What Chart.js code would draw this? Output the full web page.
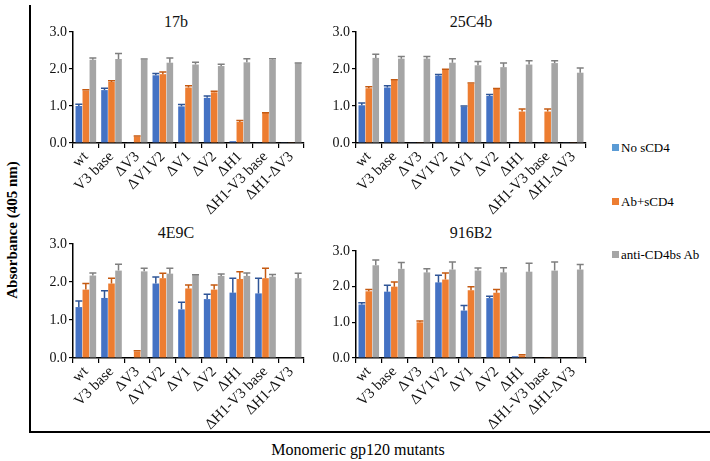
<!DOCTYPE html>
<html>
<head>
<meta charset="utf-8">
<script src="https://cdn.jsdelivr.net/npm/chart.js@4.4.0/dist/chart.umd.min.js"></script>
<style>
body { margin: 0; background: #fff; font-family: "Liberation Serif", serif; }
#wrap { position: relative; width: 710px; height: 461px; overflow: hidden; }
.panel { position: absolute; }
.ptitle { position: absolute; font-size: 16px; transform: translate(-50%, -50%); white-space: nowrap; color: #111; }
#frame { position: absolute; left: 29px; top: 5px; width: 681px; height: 426px; border-left: 2px solid #000; border-bottom: 2px solid #000; }
#ytitle { position: absolute; left: 12px; top: 230px; transform: translate(-50%, -50%) rotate(-90deg); font-weight: bold; font-size: 15px; white-space: nowrap; }
#xtitle { position: absolute; left: 358px; top: 450px; transform: translate(-50%, -50%); font-size: 16px; white-space: nowrap; }
.leg { position: absolute; left: 612px; font-size: 13px; white-space: nowrap; transform: translateY(-50%); }
.leg span { display: inline-block; width: 7px; height: 7px; margin-right: 2px; vertical-align: 1px; }
</style>
</head>
<body>
<div id="wrap">
  <div id="frame"></div>
  <div id="ytitle">Absorbance (405 nm)</div>
  <div id="xtitle">Monomeric gp120 mutants</div>

  <div class="ptitle" style="left:176px;top:22px">17b</div>
  <div class="ptitle" style="left:471px;top:22px">25C4b</div>
  <div class="ptitle" style="left:176px;top:233px">4E9C</div>
  <div class="ptitle" style="left:471px;top:233px">916B2</div>

  <div class="panel" style="left:30px;top:20px;width:290px;height:215px"><canvas id="c17b"></canvas></div>
  <div class="panel" style="left:313px;top:20px;width:290px;height:215px"><canvas id="c25c4b"></canvas></div>
  <div class="panel" style="left:30px;top:232px;width:290px;height:200px"><canvas id="c4e9c"></canvas></div>
  <div class="panel" style="left:313px;top:232px;width:290px;height:200px"><canvas id="c916b2"></canvas></div>

  <div class="leg" style="top:148px"><span style="background:#5B9BD5"></span>No sCD4</div>
  <div class="leg" style="top:202px"><span style="background:#ED7D31"></span>Ab+sCD4</div>
  <div class="leg" style="top:255px"><span style="background:#A5A5A5"></span>anti-CD4bs Ab</div>
</div>

<script>
// --- DATA ---
const categories = ["wt", "V3 base", "ΔV3", "ΔV1V2", "ΔV1", "ΔV2", "ΔH1", "ΔH1-V3 base", "ΔH1-ΔV3"];
const yTicks = [0, 1, 2, 3];

// 17b
const no17b      = [1.00, 1.43, 0.02, 1.83, 0.99, 1.22, 0.05, 0.02, 0.02];
const no17bErr   = [1.05, 1.48, null, 1.88, 1.04, 1.27, null, null, null];
const ab17b      = [1.42, 1.65, 0.17, 1.86, 1.50, 1.37, 0.57, 0.81, 0.02];
const ab17bErr   = [1.44, 1.68, 0.19, 1.92, 1.55, 1.40, 0.61, 0.82, null];
const anti17b    = [2.25, 2.27, 2.25, 2.17, 2.12, 2.08, 2.18, 2.25, 2.15];
const anti17bErr = [2.30, 2.42, 2.27, 2.30, 2.18, 2.13, 2.28, 2.28, 2.16];

// 25C4b
const no25c4b      = [1.02, 1.50, 0.02, 1.82, 0.98, 1.27, 0.02, 0.02, 0.02];
const no25c4bErr   = [1.08, 1.55, null, 1.85, 1.00, 1.31, null, null, null];
const ab25c4b      = [1.48, 1.70, 0.02, 1.98, 1.60, 1.46, 0.85, 0.85, 0.02];
const ab25c4bErr   = [1.52, 1.71, null, 1.99, 1.62, 1.47, 0.92, 0.92, null];
const anti25c4b    = [2.30, 2.28, 2.28, 2.17, 2.10, 2.05, 2.12, 2.16, 1.90];
const anti25c4bErr = [2.40, 2.34, 2.34, 2.28, 2.20, 2.16, 2.22, 2.22, 2.03];

// 4E9C
const no4e9c      = [1.34, 1.58, 0, 1.96, 1.28, 1.55, 1.72, 1.70, 0];
const no4e9cErr   = [1.50, 1.77, null, 2.13, 1.47, 1.68, 2.10, 2.10, null];
const ab4e9c      = [1.80, 1.96, 0.17, 2.10, 1.83, 1.80, 2.08, 2.10, 0];
const ab4e9cErr   = [1.96, 2.10, 0.19, 2.23, 1.92, 1.92, 2.27, 2.36, null];
const anti4e9c    = [2.17, 2.30, 2.28, 2.22, 2.18, 2.16, 2.16, 2.14, 2.10];
const anti4e9cErr = [2.24, 2.47, 2.36, 2.36, 2.19, 2.21, 2.24, 2.20, 2.23];

// 916B2
const no916b2      = [1.50, 1.86, 0.02, 2.12, 1.33, 1.68, 0.05, 0, 0];
const no916b2Err   = [1.55, 2.04, null, 2.32, 1.47, 1.73, null, null, null];
const ab916b2      = [1.87, 2.00, 1.00, 2.20, 1.90, 1.83, 0.07, 0.02, 0];
const ab916b2Err   = [1.92, 2.13, 1.04, 2.38, 2.00, 1.92, 0.09, null, null];
const anti916b2    = [2.60, 2.50, 2.40, 2.48, 2.45, 2.40, 2.42, 2.45, 2.48];
const anti916b2Err = [2.75, 2.68, 2.50, 2.69, 2.52, 2.53, 2.66, 2.69, 2.62];

// --- error bars drawn through the y scale ---
const errorBars = {
  id: "errorBars",
  afterDatasetsDraw(chart) {
    const ctx = chart.ctx;
    const y = chart.scales.y;
    chart.data.datasets.forEach((ds, i) => {
      const meta = chart.getDatasetMeta(i);
      meta.data.forEach((bar, j) => {
        const top = ds.errTop[j];
        if (top == null || top <= ds.data[j]) return;
        const yt = y.getPixelForValue(top);
        ctx.save();
        ctx.strokeStyle = ds.errColor;
        ctx.lineWidth = 1.5;
        ctx.beginPath();
        ctx.moveTo(bar.x, bar.y);
        ctx.lineTo(bar.x, yt);
        ctx.moveTo(bar.x - 3.5, yt);
        ctx.lineTo(bar.x + 3.5, yt);
        ctx.stroke();
        ctx.restore();
      });
    });
  }
};

const xFont = { family: "'Liberation Serif', serif", size: 15 };
const yFont = { family: "'Liberation Serif', serif", size: 14 };

function makePanel(id, series, padTop, yWidth, xHeight, padRight) {
  const ctx = document.getElementById(id).getContext("2d");
  return new Chart(ctx, {
    type: "bar",
    data: {
      labels: categories,
      datasets: [
        { label: "No sCD4", data: series[0], errTop: series[1], backgroundColor: "#4472C4", errColor: "#2F5597" },
        { label: "Ab+sCD4", data: series[2], errTop: series[3], backgroundColor: "#ED7D31", errColor: "#C55A11" },
        { label: "anti-CD4bs Ab", data: series[4], errTop: series[5], backgroundColor: "#A5A5A5", errColor: "#7F7F7F" }
      ]
    },
    options: {
      responsive: true,
      maintainAspectRatio: false,
      animation: false,
      layout: { padding: { top: padTop, right: padRight, left: 0, bottom: 0 } },
      plugins: { legend: { display: false }, tooltip: { enabled: false } },
      datasets: { bar: { categoryPercentage: 0.82, barPercentage: 0.94 } },
      scales: {
        x: {
          afterFit: s => { s.height = xHeight; },
          grid: { offset: true, drawOnChartArea: false, drawTicks: true, tickLength: 5, color: "#000", lineWidth: 1.2 },
          border: { display: true, color: "#000", width: 1.5 },
          ticks: { color: "#111", font: xFont, minRotation: 45, maxRotation: 45, padding: 0, autoSkip: false }
        },
        y: {
          min: 0, max: 3,
          afterFit: s => { s.width = yWidth; },
          afterBuildTicks: s => { s.ticks = yTicks.map(v => ({ value: v })); },
          grid: { drawOnChartArea: false, drawTicks: true, tickLength: 4, color: "#000", lineWidth: 1.2 },
          border: { display: true, color: "#000", width: 1.5 },
          ticks: { color: "#111", font: yFont, padding: 2, callback: v => Number(v).toFixed(1) }
        }
      }
    },
    plugins: [errorBars]
  });
}

makePanel("c17b",   [no17b, no17bErr, ab17b, ab17bErr, anti17b, anti17bErr], 12, 43, 92, 16);
makePanel("c25c4b", [no25c4b, no25c4bErr, ab25c4b, ab25c4bErr, anti25c4b, anti25c4bErr], 12, 43, 92, 17);
makePanel("c4e9c",  [no4e9c, no4e9cErr, ab4e9c, ab4e9cErr, anti4e9c, anti4e9cErr], 12, 43, 74, 16);
makePanel("c916b2", [no916b2, no916b2Err, ab916b2, ab916b2Err, anti916b2, anti916b2Err], 19, 43, 74, 17);
</script>
</body>
</html>
